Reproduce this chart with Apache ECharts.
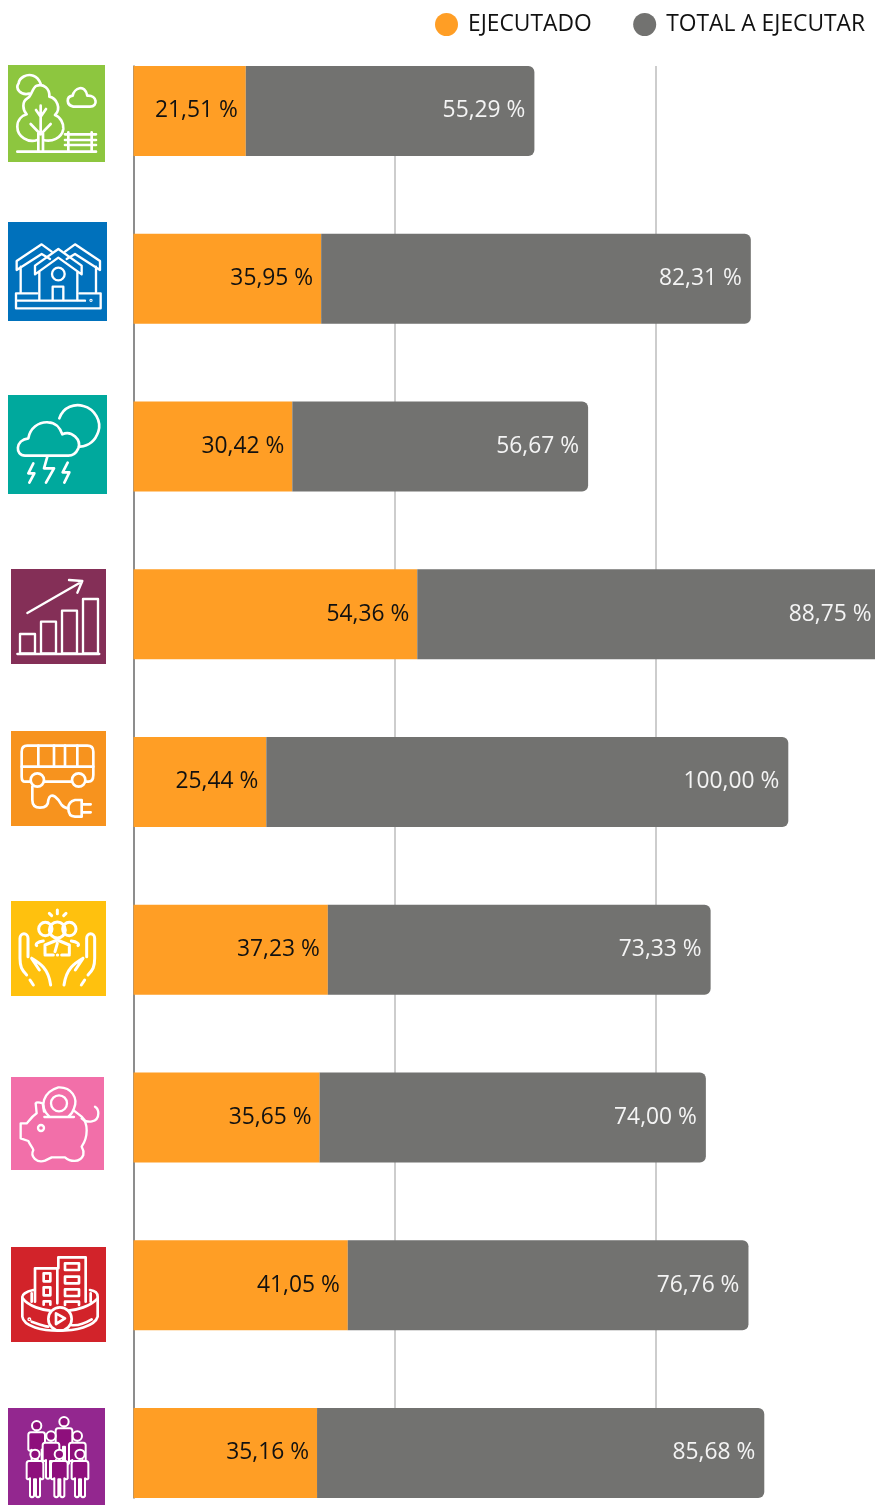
<!DOCTYPE html>
<html>
<head>
<meta charset="utf-8">
<script src="https://cdn.jsdelivr.net/npm/echarts@6/dist/echarts.min.js"></script>
<style>html,body{margin:0;padding:0;background:#fff}#c{width:875px;height:1506px}</style>
</head>
<body>
<div id="c"></div>
<script>
const categories = ['Ambiente','Vivienda','Clima','Economía','Movilidad','Comunidad','Finanzas','Ciudad','Población'];
const ejecutado = [21.51,35.95,30.42,54.36,25.44,37.23,35.65,41.05,35.16];
const totalAEjecutar = [55.29,82.31,56.67,88.75,100.00,73.33,74.00,76.76,85.68];
const seriesNames = ['EJECUTADO','TOTAL A EJECUTAR'];

const ORANGE = '#FF9E25', GRAY = '#727270', FONT = '"Open Sans"';
const fmt = p => p.value.toFixed(2).replace('.', ',') + ' %';
const circ = (x, y, r) => `M${x - r} ${y}a${r} ${r} 0 1 0 ${2 * r} 0a${r} ${r} 0 1 0 ${-2 * r} 0Z`;
const box = (x, y, w, h) => `M${x} ${y}h${w}v${h}h${-w}Z`;
const person = (x, y) => circ(x, y, 14) + `M${x - 18} ${y + 20}H${x + 18}Q${x + 25} ${y + 20} ${x + 25} ${y + 28}V${y + 72}Q${x + 22} ${y + 78} ${x + 15} ${y + 72}V${y + 125}Q${x + 9} ${y + 132} ${x + 3} ${y + 125}V${y + 75}H${x - 3}V${y + 125}Q${x - 9} ${y + 132} ${x - 15} ${y + 125}V${y + 72}Q${x - 22} ${y + 78} ${x - 25} ${y + 72}V${y + 28}Q${x - 25} ${y + 20} ${x - 18} ${y + 20}Z`;

// Decorative icons, in 3x coordinates of their own crop origin
const icons = [
  {org:[0,55], r:[24,30,291,291], c:'#8DC63F', w:8, d:[
    'M88 116C60 122 45 100 56 85C58 68 80 55 100 62C112 66 118 76 122 86',
    'M112 255C85 265 52 245 52 215C52 195 65 182 80 178C68 165 65 140 82 130C95 125 95 100 110 92C130 85 150 100 148 125C170 130 185 160 165 180C180 185 192 205 190 222C185 250 155 262 130 255',
    'M115 288V235M129 288V235M122 235V152M122 185L108 165M122 185L138 162M122 238L92 207M122 238L152 207',
    'M52 290H288M205 232V290M275 232V290M195 238H288M195 255H288M195 270H288',
    'M220 155C198 150 198 125 218 122C222 100 255 85 262 122C292 120 295 155 270 155Z']},
  {org:[0,55], r:[24,501,297,297], c:'#0071BC', w:7, d:[
    'M155 590L125 568L50 618V645L125 597L150 612M62 635V712',
    'M195 590L225 568L300 618V645L225 597L200 612M288 635V712',
    'M105 658V632L175 582L245 632V658L175 608ZM118 650V735M232 650V735',
    circ(175,657,19),'M158 735V695H190V735',
    'M112 715H48V760H302V715H238M50 737H255', circ(273,736,1.5)]},
  {org:[0,385], r:[24,30,297,297], c:'#00A99D', w:8, d:[
    'M178 100C190 65 225 55 250 63C285 72 305 110 295 140C285 170 265 183 240 185',
    'M75 212C45 212 45 165 85 160C90 130 115 110 145 112C165 112 180 128 187 148C215 135 245 165 235 190C228 205 215 212 205 212Z',
    'M100 235L85 265H103L88 293','M142 215L132 250H162L138 293','M203 233L188 262H208L193 293']},
  {org:[0,385], r:[33,552,285,285], c:'#842F57', w:7, d:[
    box(60,747,45,58),box(123,710,45,95),box(186,677,45,128),box(249,642,45,163),
    'M52 807H298','M82 684L245 590M207 585L247 588L232 623']},
  {org:[0,725], r:[33,18,285,285], c:'#F7931E', w:8, d:[
    'M92 170H75Q65 170 65 155V80Q65 62 82 62H262Q280 62 280 80V150Q280 170 265 170H256M132 170H216',
    circ(112,165,20),circ(236,165,20),'M65 125H280M115 62V125M162 62V125M195 62V125M232 62V125',
    'M97 185V225Q97 248 120 248Q145 248 145 225Q150 205 165 215Q178 225 185 240Q195 250 205 250',
    'M245 225H225Q205 230 205 250Q205 275 225 275H245ZM245 238H272M245 262H272']},
  {org:[0,725], r:[33,528,285,285], c:'#FFC10E', w:9, d:[
    'M100 780L90 765M80 750C65 735 60 725 60 700V640C60 622 84 622 84 640V695M95 700C120 715 145 730 152 780M95 700L118 735',
    'M244 780L254 765M264 750C279 735 284 725 284 700V640C284 622 260 622 260 640V695M249 700C224 715 199 730 192 780M249 700L226 735',
    circ(172,615,24),circ(136,612,20),circ(208,612,20),'M172 555V566M148 565L155 572M198 565L191 572',
    'M130 648C112 650 105 658 110 662M214 648C232 650 239 658 234 662',
    'M135 688V660L172 645L208 660V688M135 690H160M185 690H208M172 655L165 680M172 690H173']},
  {org:[0,1070], r:[33,21,279,279], c:'#F26FA9', w:7, d:[
    'M148 140C115 110 130 65 175 52C215 50 235 85 222 115C218 128 212 135 205 140',
    circ(177,100,24),'M133 141H222',
    'M132 125L128 100Q110 95 107 100L110 130C95 140 85 155 80 160H62V205L85 213C90 225 100 235 100 240C90 260 110 280 135 272L155 262H195C210 275 240 280 250 255C252 245 248 235 245 230C265 200 265 160 245 140L222 122',
    circ(123,174,9),'M245 145C260 160 295 160 295 130C295 120 290 113 285 110']},
  {org:[0,1070], r:[33,531,285,285], c:'#D2232A', w:8, d:[
    'M105 695V595H172V700M175 595V562H257V695',
    box(131,610,20,24),box(131,652,20,24),'M131 704V694H151V704',
    box(195,580,42,20),box(195,620,42,20),box(195,658,42,20),'M195 705V695H237V705',
    'M100 660C75 665 67 675 67 680V740C70 770 130 782 175 782C225 782 285 770 293 740V680C293 670 285 662 270 660',
    'M68 685C85 710 130 720 150 722M205 722C230 720 270 710 293 685M95 670V695M272 670V695',
    'M95 755C110 760 130 768 145 770M212 765C230 768 255 760 275 748',
    circ(180,747,35),'M168 730L195 745L168 762Z',circ(88,748,2)]},
  {org:[0,1400], r:[24,24,291,291], c:'#93278F', w:6, fill:'#8E0F7C', d:[
    person(110,77),person(192,65),person(232,108),person(153,108),
    person(105,163),person(178,163),person(240,163)]}
];

let shapeId = 0;
const shapeFor = d => {
  const name = 'iconPath' + (shapeId++);
  echarts.graphic.registerShape(name, echarts.graphic.extendPath(d, {}));
  return name;
};
const graphic = icons.map(ic => ({
  type: 'group', x: ic.org[0], y: ic.org[1], scaleX: 1/3, scaleY: 1/3, silent: true,
  children: [
    {type:'rect', shape:{x:ic.r[0], y:ic.r[1], width:ic.r[2], height:ic.r[3]}, style:{fill:ic.c}},
    ...ic.d.map(p => ({type:shapeFor(p), style:{fill:ic.fill || 'none', stroke:'#fff', lineWidth:ic.w, lineCap:'round', lineJoin:'round'}}))
  ]
}));

const xScale = {type:'value', min:0, max:150, interval:50};
const chart = echarts.init(document.getElementById('c'), null, {renderer:'canvas'});
chart.setOption({
  animation: false,
  backgroundColor: '#fff',
  textStyle: {fontFamily: FONT},
  legend: {
    left: 430, top: 8, icon: 'circle', itemWidth: 33, itemHeight: 23, itemGap: 41.5,
    selectedMode: false, data: seriesNames,
    textStyle: {fontFamily: FONT, fontSize: 22.8, color: '#111'}
  },
  graphic,
  grid: [
    {left:133.5, top:27.125, width:783, height:1509.75, containLabel:false, outerBoundsMode:'none'},
    {left:134, top:66, width:783, height:1432, containLabel:false, outerBoundsMode:'none', z:0}
  ],
  xAxis: [
    {...xScale, gridIndex:0, show:false},
    {...xScale, gridIndex:1, axisLabel:{show:false}, axisTick:{show:false}, axisLine:{show:false},
     splitLine:{show:true, lineStyle:{color:'#BDBDBD', width:1.5}}, z:0}
  ],
  yAxis: [
    {type:'category', gridIndex:0, inverse:true, data:categories, show:false},
    {type:'value', gridIndex:1, min:0, max:1, axisLabel:{show:false}, axisTick:{show:false}, splitLine:{show:false},
     axisLine:{show:true, lineStyle:{color:'#777', width:1.5}}, z:0}
  ],
  series: [
    {name:seriesNames[0], type:'bar', stack:'t', xAxisIndex:0, yAxisIndex:0, barWidth:90, clip:false, z:3,
     data:ejecutado, itemStyle:{color:ORANGE},
     label:{show:true, position:'insideRight', distance:8, formatter:fmt, fontFamily:FONT, fontSize:22.8, color:'#111'}},
    {name:seriesNames[1], type:'bar', stack:'t', xAxisIndex:0, yAxisIndex:0, barWidth:90, clip:false, z:3,
     data:totalAEjecutar, itemStyle:{color:GRAY, borderRadius:[0,6,6,0]},
     label:{show:true, position:'insideRight', distance:9, formatter:fmt, fontFamily:FONT, fontSize:22.8, color:'#F4F4F4'}}
  ]
});
</script>
</body>
</html>
